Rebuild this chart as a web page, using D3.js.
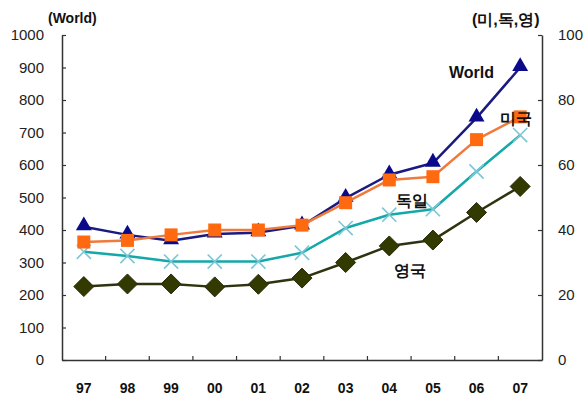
<!DOCTYPE html>
<html>
<head>
<meta charset="utf-8">
<script src="https://cdn.jsdelivr.net/npm/d3@7"></script>
<style>
  html, body { margin: 0; padding: 0; background: #fff; }
  svg text { font-family: "Liberation Sans", Arial, sans-serif; }
</style>
</head>
<body>
<svg id="chart" width="586" height="397"></svg>
<script>
// Years (x categories)
const years = ["97", "98", "99", "00", "01", "02", "03", "04", "05", "06", "07"];
// World, left axis (0-1000)
const world = [410, 385, 367, 388, 392, 413, 498, 570, 606, 745, 900];
// US, Germany, UK on the right axis (0-100)
const usa = [36.3, 36.8, 38.5, 40.0, 40.0, 41.5, 48.4, 55.4, 56.4, 67.8, 74.8];
const germany = [33.3, 32.0, 30.3, 30.3, 30.3, 33.0, 40.6, 44.7, 46.4, 58.0, 69.2];
const uk = [22.6, 23.4, 23.4, 22.5, 23.3, 25.2, 30.0, 35.1, 36.9, 45.4, 53.4];
const leftTicks = [0, 100, 200, 300, 400, 500, 600, 700, 800, 900, 1000];
const rightTicks = [0, 20, 40, 60, 80, 100];

const svg = d3.select("#chart");
const x0 = 62, x1 = 542, yTop = 35, yBot = 360;
const axisColor = "#333";

const x = d3.scaleBand().domain(years).range([x0, x1]);
const cx = d => x(d) + x.bandwidth() / 2;
const yL = d3.scaleLinear().domain([0, 1000]).range([yBot, yTop]);
const yR = d3.scaleLinear().domain([0, 100]).range([yBot, yTop]);

// Left axis
const gL = svg.append("g").attr("transform", `translate(${x0},0)`)
  .call(d3.axisLeft(yL).tickValues(leftTicks).tickFormat(d3.format("d"))
    .tickSizeInner(-4).tickSizeOuter(0).tickPadding(18));
// Right axis
const gR = svg.append("g").attr("transform", `translate(${x1},0)`)
  .call(d3.axisRight(yR).tickValues(rightTicks).tickFormat(d3.format("d"))
    .tickSizeInner(-4).tickSizeOuter(0).tickPadding(16));
// Bottom axis: ticks at category boundaries
const gB = svg.append("g").attr("transform", `translate(0,${yBot})`)
  .call(d3.axisBottom(x).tickSize(0).tickPadding(23));
gB.selectAll(".boundary").data(years.slice(1)).enter().append("line")
  .attr("class", "boundary")
  .attr("x1", d => x(d)).attr("x2", d => x(d))
  .attr("y1", 0).attr("y2", -4)
  .attr("stroke", axisColor).attr("stroke-width", 1.2);

[gL, gR, gB].forEach(g => {
  g.select(".domain").attr("stroke", axisColor).attr("stroke-width", 1.5);
  g.selectAll(".tick line").attr("stroke", axisColor).attr("stroke-width", 1.2);
  g.selectAll(".tick text").attr("fill", "#222").attr("font-size", 15);
});
gB.selectAll(".tick text").attr("fill", "#111").attr("font-weight", "bold").attr("font-size", 14);

// Axis titles
svg.append("text").attr("x", 48).attr("y", 23).attr("font-size", 14).attr("font-weight", "bold")
  .attr("fill", "#111").text("(World)");
svg.append("text").attr("x", 472).attr("y", 25).attr("font-size", 16).attr("font-weight", "bold")
  .attr("fill", "#111").text("(미,독,영)");

// Series drawing helpers
function drawLine(data, yScale, color, width) {
  const line = d3.line().x((d, i) => cx(years[i])).y(d => yScale(d));
  svg.append("path").datum(data).attr("d", line)
    .attr("fill", "none").attr("stroke", color).attr("stroke-width", width)
    .attr("stroke-linejoin", "round");
}

// UK (olive diamonds)
drawLine(uk, yR, "#2f3310", 2.5);
svg.append("g").selectAll("path").data(uk).enter().append("path")
  .attr("transform", (d, i) => `translate(${cx(years[i])},${yR(d)})`)
  .attr("d", "M0,-10L10,0L0,10L-10,0Z")
  .attr("fill", "#333a00").attr("stroke", "#2a2a10").attr("stroke-width", 1);

// Germany (teal line with cross markers)
drawLine(germany, yR, "#14a8a8", 2.5);
svg.append("g").selectAll("path").data(germany).enter().append("path")
  .attr("transform", (d, i) => `translate(${cx(years[i])},${yR(d)}) rotate(45)`)
  .attr("d", "M-10,0L10,0M0,-10L0,10")
  .attr("fill", "none").attr("stroke", "#7cc6d6").attr("stroke-width", 1.6);

// World (navy triangles)
drawLine(world, yL, "#1a1a80", 2.5);
svg.append("g").selectAll("path").data(world).enter().append("path")
  .attr("transform", (d, i) => `translate(${cx(years[i])},${yL(d) - 1})`)
  .attr("d", d3.symbol(d3.symbolTriangle, 110)())
  .attr("fill", "#0a0a8a");

// USA (orange squares)
drawLine(usa, yR, "#f07a3c", 2.5);
svg.append("g").selectAll("rect").data(usa).enter().append("rect")
  .attr("x", (d, i) => cx(years[i]) - 6.5).attr("y", d => yR(d) - 6.5)
  .attr("width", 13).attr("height", 13)
  .attr("fill", "#ff6a10");

// Series labels
const labels = [
  { t: "World", x: 449, y: 78 },
  { t: "미국", x: 500, y: 124 },
  { t: "독일", x: 396, y: 206 },
  { t: "영국", x: 394, y: 276 }
];
svg.append("g").selectAll("text").data(labels).enter().append("text")
  .attr("x", d => d.x).attr("y", d => d.y).attr("font-size", 16).attr("font-weight", "bold")
  .attr("fill", "#111").text(d => d.t);
</script>
</body>
</html>
